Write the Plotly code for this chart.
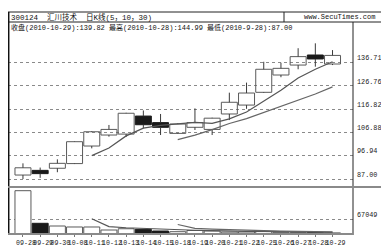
import plotly.graph_objects as go
from plotly.subplots import make_subplots

# ---------------- data ----------------
dates = ["09-28", "09-29", "09-30", "10-08", "10-11", "10-12", "10-13", "10-14",
         "10-15", "10-18", "10-19", "10-20", "10-21", "10-22", "10-25", "10-26",
         "10-27", "10-28", "10-29"]
opens = [88.70, 90.70, 91.60, 93.60, 101.10, 105.80, 106.20, 113.90, 111.10, 106.50,
         109.10, 108.20, 114.80, 118.60, 124.05, 131.45, 135.70, 140.00, 136.15]
highs = [93.70, 91.90, 95.40, 103.10, 107.50, 110.10, 115.30, 116.30, 114.80, 110.80,
         117.20, 113.20, 123.90, 128.20, 137.10, 136.70, 142.90, 144.99, 142.10]
lows = [87.00, 87.50, 89.90, 93.40, 100.10, 105.10, 105.00, 108.70, 105.80, 106.30,
        107.95, 105.80, 112.20, 117.00, 123.80, 130.50, 133.90, 135.00, 135.70]
closes = [91.80, 89.30, 93.70, 102.95, 107.20, 108.20, 115.10, 110.20, 109.10, 110.50,
          111.10, 113.00, 119.80, 123.75, 133.90, 134.30, 139.30, 138.30, 139.82]
volumes = [197500, 48800, 36500, 32000, 32000, 18200, 24000, 21400, 13700, 10500,
           16000, 13700, 8500, 9000, 11000, 7500, 6500, 7000, 5000]

price_ticks = [87.00, 96.94, 106.88, 116.82, 126.76, 136.71]
price_tick_labels = ["87.00", "96.94", "106.88", "116.82", "126.76", "136.71"]
vol_ticks = [67049]
vol_tick_labels = ["67049"]

title_text = "300124  汇川技术  日K线(5，10，30)"
site_text = "www.SecuTimes.com"
info_text = "收盘(2010-10-29):139.82 最高(2010-10-28):144.99 最低(2010-9-28):87.00"

# ---------------- helpers ----------------
def moving_average(vals, n):
    return [None if i < n - 1 else sum(vals[i - n + 1:i + 1]) / n for i in range(len(vals))]

idx = list(range(len(dates)))
ma5 = moving_average(closes, 5)
ma10 = moving_average(closes, 10)
vma5 = moving_average(volumes, 5)
vma10 = moving_average(volumes, 10)
is_up = [c >= o for o, c in zip(opens, closes)]

# The page body keeps its default 8px margin, so the figure is drawn 8px in
# from the window's top-left corner; size it so it ends at the window edge.
PAGE_OFF = 8
W, H = 389 - PAGE_OFF, 246 - PAGE_OFF
ML, MR, MT, MB = 0, 36, 14, 12
PW, PH = W - ML - MR, H - MT - MB


def px_x(x):  # x given in window pixels
    return (x - PAGE_OFF - ML) / PW


def px_y(y):  # y given in window pixels
    return (H - MB - (y - PAGE_OFF)) / PH


MONO = "Liberation Mono, Noto Sans CJK SC, monospace"
UP_LINE = "#5a5a5a"
DOWN = "#1a1a1a"
BODY_W = 0.93

fig = make_subplots(rows=2, cols=1, shared_xaxes=True, vertical_spacing=0,
                    row_heights=[165, 47])

# wicks (upper and lower shadows) drawn from the OHLC arrays
wx, wy = [], []
for i in idx:
    top = max(opens[i], closes[i])
    bot = min(opens[i], closes[i])
    wx += [i, i, None, i, i, None]
    wy += [top, highs[i], None, lows[i], bot, None]
fig.add_trace(go.Scatter(x=wx, y=wy, mode="lines", line=dict(color="#3a3a3a", width=1),
                         showlegend=False, hoverinfo="skip"), row=1, col=1)

# candle bodies
fig.add_trace(go.Bar(
    x=idx,
    y=[abs(c - o) for o, c in zip(opens, closes)],
    base=[min(o, c) for o, c in zip(opens, closes)],
    width=BODY_W,
    marker=dict(color=["rgba(255,255,255,0)" if u else DOWN for u in is_up],
                line=dict(color=[UP_LINE if u else DOWN for u in is_up], width=1)),
    showlegend=False, hoverinfo="skip"), row=1, col=1)

fig.add_trace(go.Scatter(x=idx, y=ma5, mode="lines", line=dict(color="#555555", width=1.2),
                         showlegend=False, hoverinfo="skip"), row=1, col=1)
fig.add_trace(go.Scatter(x=idx, y=ma10, mode="lines", line=dict(color="#666666", width=1.2),
                         showlegend=False, hoverinfo="skip"), row=1, col=1)

fig.add_trace(go.Bar(x=idx, y=volumes, width=BODY_W,
                     marker=dict(color=["#ffffff" if u else DOWN for u in is_up],
                                 line=dict(color=[UP_LINE if u else DOWN for u in is_up], width=1)),
                     showlegend=False, hoverinfo="skip"), row=2, col=1)
fig.add_trace(go.Scatter(x=idx, y=vma5, mode="lines", line=dict(color="#555555", width=1.2),
                         showlegend=False, hoverinfo="skip"), row=2, col=1)
fig.add_trace(go.Scatter(x=idx, y=vma10, mode="lines", line=dict(color="#666666", width=1.2),
                         showlegend=False, hoverinfo="skip"), row=2, col=1)

xr = [-0.87, 19.19]
fig.update_xaxes(range=xr, showgrid=False, zeroline=False, showline=False, fixedrange=True)
fig.update_xaxes(tickmode="array", tickvals=idx, ticktext=dates, tickangle=0,
                 ticks="outside", ticklen=2, tickcolor="#777777", ticklabelshift=3,
                 tickfont=dict(family=MONO, size=6.6, color="#222222"), row=2, col=1)
fig.update_xaxes(showticklabels=False, ticks="", row=1, col=1)

fig.update_yaxes(range=[83.59, 154.1], side="right", tickmode="array",
                 tickvals=price_ticks, ticktext=price_tick_labels,
                 ticklabelposition="outside top", ticks="", ticklen=0, ticklabelstandoff=3,
                 showgrid=True, gridcolor="#8a8a8a", griddash="dot", gridwidth=1,
                 zeroline=False, showline=False,
                 tickfont=dict(family=MONO, size=6.8, color="#222222"), row=1, col=1)
fig.update_yaxes(range=[0, 214400], side="right", tickmode="array",
                 tickvals=vol_ticks, ticktext=vol_tick_labels,
                 ticklabelposition="outside top", ticks="", ticklen=0, ticklabelstandoff=3,
                 showgrid=True, gridcolor="#8a8a8a", griddash="dot", gridwidth=1,
                 zeroline=False, showline=False,
                 tickfont=dict(family=MONO, size=6.8, color="#222222"), row=2, col=1)

line_dark = dict(color="#222222", width=1)
line_gray = dict(color="#8a8a8a", width=2)
shapes = [
    dict(x0=px_x(8), x1=px_x(387), y0=px_y(12), y1=px_y(12), line=line_dark),
    dict(x0=px_x(8), x1=px_x(387), y0=px_y(22), y1=px_y(22), line=line_dark),
    dict(x0=px_x(284), x1=px_x(284), y0=px_y(12), y1=px_y(22), line=line_dark),
    dict(x0=px_x(8.7), x1=px_x(8.7), y0=px_y(12), y1=px_y(235), line=dict(color="#111111", width=1.5)),
    dict(x0=px_x(353), x1=px_x(353), y0=px_y(22), y1=px_y(235), line=line_dark),
    dict(x0=px_x(8), x1=px_x(387), y0=px_y(187), y1=px_y(187), line=line_gray),
    dict(x0=px_x(8), x1=px_x(353), y0=px_y(234), y1=px_y(234), line=line_gray),
]
for s in shapes:
    s.update(type="line", xref="paper", yref="paper", layer="above")

annotations = [
    dict(text=title_text, x=px_x(10), y=px_y(17), xanchor="left", yanchor="middle",
         font=dict(family=MONO, size=7.5, color="#111111")),
    dict(text=site_text, x=px_x(339), y=px_y(17), xanchor="center", yanchor="middle",
         font=dict(family=MONO, size=7, color="#111111")),
    dict(text=info_text, x=px_x(10), y=px_y(27.5), xanchor="left", yanchor="middle",
         font=dict(family=MONO, size=7, color="#111111")),
]
for a in annotations:
    a.update(xref="paper", yref="paper", showarrow=False, borderpad=0)

fig.update_layout(
    width=W, height=H, margin=dict(l=ML, r=MR, t=MT, b=MB, pad=0),
    paper_bgcolor="white", plot_bgcolor="white",
    barmode="overlay", showlegend=False,
    shapes=shapes, annotations=annotations,
)

fig.write_html("out.html")
